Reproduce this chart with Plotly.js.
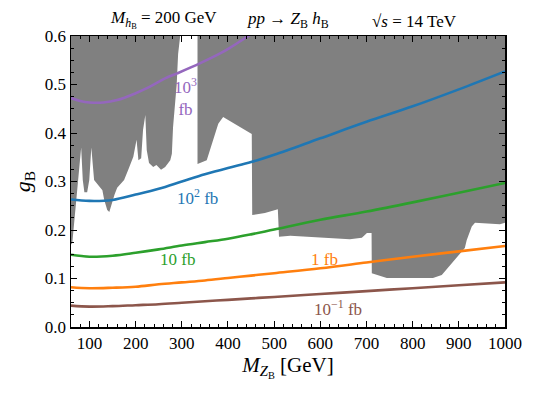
<!DOCTYPE html>
<html>
<head>
<meta charset="utf-8">
<script src="https://cdn.plot.ly/plotly-3.0.1.min.js"></script>
<style>
  body { margin: 0; background: #fff; }
  #plot { width: 540px; height: 393px; }
</style>
</head>
<body>
<div id="plot"></div>
<script>
// excluded region, left part (lower edge)
const exclLeftX = [60, 60, 62.8, 69, 76, 82, 85.5, 89, 95, 99.6, 104, 106, 110, 117, 123, 128, 132, 138.5, 143, 147, 154, 160, 169, 175, 184, 195, 202, 206, 212, 216, 221, 224, 229, 238, 245, 255, 264, 270, 275, 278.5, 281, 289, 292, 296.5];
const exclLeftY = [0.6, 0.17, 0.173, 0.24, 0.307, 0.37, 0.303, 0.278, 0.278, 0.303, 0.37, 0.344, 0.303, 0.295, 0.289, 0.282, 0.262, 0.241, 0.237, 0.252, 0.272, 0.287, 0.297, 0.303, 0.324, 0.351, 0.386, 0.344, 0.348, 0.406, 0.437, 0.365, 0.338, 0.330, 0.334, 0.324, 0.330, 0.338, 0.344, 0.357, 0.412, 0.501, 0.563, 0.6];

// excluded region, right part
const exclRightX = [334, 334, 354, 379, 389.5, 451.5, 452.5, 480, 508, 510.5, 535, 664, 690, 701, 711, 711.5, 744, 844, 863, 913, 917, 928, 935, 989, 1000, 1000];
const exclRightY = [0.6, 0.336, 0.344, 0.419, 0.433, 0.398, 0.231, 0.235, 0.243, 0.186, 0.188, 0.181, 0.184, 0.194, 0.194, 0.111, 0.101, 0.101, 0.107, 0.163, 0.179, 0.207, 0.215, 0.212, 0.215, 0.6];

// cross-section contours
const mass = [60, 100, 150, 200, 250, 300, 350, 400, 450, 500, 600, 700, 800, 900, 1000];
const gB_1000fb_x = [60, 80, 100, 130, 160, 200, 230, 265, 290, 340, 383, 405, 444, 470];
const gB_1000fb = [0.472, 0.466, 0.463, 0.463, 0.468, 0.482, 0.495, 0.513, 0.523, 0.544, 0.564, 0.576, 0.6, 0.616];
const gB_100fb = [0.263, 0.260, 0.262, 0.273, 0.285, 0.300, 0.315, 0.328, 0.340, 0.355, 0.389, 0.423, 0.455, 0.490, 0.527];
const gB_10fb = [0.149, 0.145, 0.147, 0.153, 0.160, 0.168, 0.175, 0.182, 0.191, 0.201, 0.221, 0.238, 0.257, 0.277, 0.297];
const gB_1fb = [0.082, 0.080, 0.081, 0.083, 0.088, 0.092, 0.096, 0.101, 0.106, 0.111, 0.121, 0.133, 0.145, 0.156, 0.167];
const gB_01fb = [0.044, 0.042, 0.043, 0.045, 0.047, 0.050, 0.053, 0.056, 0.059, 0.062, 0.068, 0.074, 0.080, 0.086, 0.092];

const serif = 'Liberation Serif, DejaVu Serif, serif';

function excl(x, y) {
    return {
        x: x, y: y, mode: 'lines', type: 'scatter', fill: 'toself',
        fillcolor: '#808080', line: {width: 0, color: '#808080'},
        hoverinfo: 'skip', showlegend: false
    };
}

function contour(x, y, color) {
    return {
        x: x, y: y, mode: 'lines', type: 'scatter',
        line: {color: color, width: 2.6, shape: 'spline', smoothing: 1},
        showlegend: false
    };
}

const traces = [
    excl(exclLeftX, exclLeftY),
    excl(exclRightX, exclRightY),
    contour(gB_1000fb_x, gB_1000fb, '#9467bd'),
    contour(mass, gB_100fb, '#1f77b4'),
    contour(mass, gB_10fb, '#2ca02c'),
    contour(mass, gB_1fb, '#ff7f0e'),
    contour(mass, gB_01fb, '#8c564b')
];

function label(x, y, text, color) {
    return {x: x, y: y, xref: 'x', yref: 'y', text: text, showarrow: false,
            font: {family: serif, size: 17, color: color}};
}

function head(x, text) {
    return {x: x, y: 1.0, xref: 'paper', yref: 'paper', xanchor: 'center', yanchor: 'bottom', yshift: 3,
            text: text, showarrow: false, font: {family: serif, size: 17, color: '#000'}};
}

const axisCommon = {
    ticks: 'inside', ticklen: 6, tickwidth: 1, tickcolor: '#000',
    showline: true, linecolor: '#000', linewidth: 1.5, mirror: 'allticks',
    showgrid: false, zeroline: false,
    tickfont: {family: serif, size: 17, color: '#000'}
};

const layout = {
    width: 540, height: 393,
    margin: {l: 71, r: 35, t: 36, b: 66},
    paper_bgcolor: '#fff', plot_bgcolor: '#fff',
    xaxis: Object.assign({}, axisCommon, {
        range: [60, 1000], tick0: 0, dtick: 100,
        minor: {tick0: 0, dtick: 20, ticks: 'inside', ticklen: 3, tickcolor: '#000'},
        title: {text: '<i>M</i><sub><i>Z</i><sub>B</sub></sub> [GeV]', font: {family: serif, size: 21, color: '#000'}, standoff: 1}
    }),
    yaxis: Object.assign({}, axisCommon, {
        range: [0, 0.6], tick0: 0, dtick: 0.1, tickformat: '.1f',
        minor: {tick0: 0, dtick: 0.025, ticks: 'inside', ticklen: 3, tickcolor: '#000'},
        title: {text: '<i>g</i><sub>B</sub>', font: {family: serif, size: 22, color: '#000'}, standoff: 8}
    }),
    annotations: [
        label(309, 0.474, '10<sup>3</sup><br>fb', '#9467bd'),
        label(333, 0.269, '10<sup>2</sup> fb', '#1f77b4'),
        label(291, 0.139, '10 fb', '#2ca02c'),
        label(608, 0.140, '1 fb', '#ff7f0e'),
        label(638, 0.039, '10<sup>\u22121</sup> fb', '#8c564b'),
        head(0.212, '<i>M</i><sub><i>h</i><sub>B</sub></sub> = 200 GeV'),
        head(0.5, '<i>pp</i> \u2192 <i>Z</i><sub>B</sub> <i>h</i><sub>B</sub>'),
        head(0.792, '\u221A<i>s</i> = 14 TeV')
    ]
};

Plotly.newPlot('plot', traces, layout, {staticPlot: true});
</script>
</body>
</html>
